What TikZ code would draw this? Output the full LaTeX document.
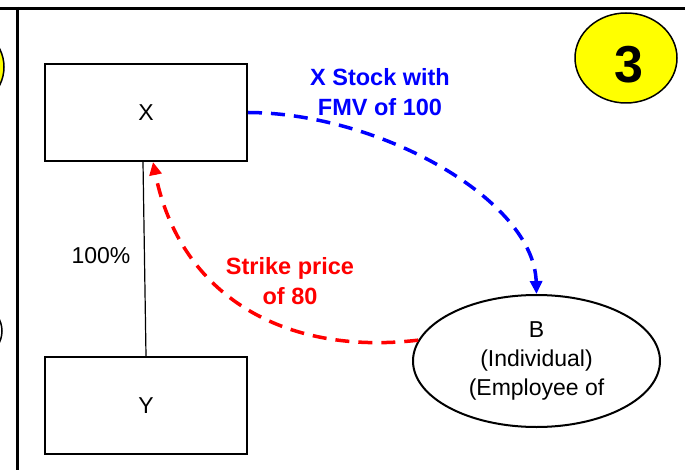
\documentclass[tikz,border=0pt]{standalone}
\usepackage{fontspec}
\setmainfont{Liberation Sans}
\usetikzlibrary{arrows.meta,shapes.geometric}
\definecolor{badgeyellow}{RGB}{255,255,0}
\definecolor{arrowblue}{RGB}{0,0,255}
\definecolor{arrowred}{RGB}{255,0,0}
\tikzset{
  entity/.style={draw=black, line width=2pt, minimum width=202pt, minimum height=97pt, inner sep=0pt, font=\fontsize{23}{29}\selectfont},
  person/.style={draw=black, line width=2pt, ellipse, minimum width=247pt, minimum height=132pt, inner sep=0pt, align=center, font=\fontsize{23}{29}\selectfont},
  badge/.style={draw=black, line width=1.5pt, fill=badgeyellow, ellipse, minimum width=102pt, minimum height=90pt, inner sep=0pt},
  frameline/.style={line width=3pt, black},
  owner/.style={line width=1.2pt, black},
  flow/.style={line width=3.5pt, dash pattern=on 14pt off 9pt, -{Triangle[length=13pt,width=12pt]}},
  flowlabel/.style={font=\bfseries\fontsize{23.5}{30}\selectfont, align=center},
  plain/.style={font=\fontsize{23}{29}\selectfont}
}
\begin{document}
\begin{tikzpicture}[x=1pt,y=-1pt]
\useasboundingbox (0,0) rectangle (685,470);
\clip (0,0) rectangle (685,470);
% frame lines
\coordinate (tl) at (0,8.5);
\coordinate (tr) at (685,8.5);
\coordinate (vt) at (17,7);
\coordinate (vb) at (17,470);
\draw[frameline] (tl) -- (tr);
\draw[frameline] (vt) -- (vb);
% partial shapes cut off at the left
\node[badge] (leftbadge) at (-47,67) {};
\node[draw=black, line width=1.5pt, fill=white, ellipse, minimum width=124pt, minimum height=80pt] (leftoval) at (-60,331) {};
% badge 3
\node[badge] (badge) at (626,58) {};
\node[font=\bfseries\fontsize{52}{52}\selectfont] (badgenum) at (629,65) {3};
% entities
\node[entity] (X) at (146,112.5) {X};
\node[entity] (Y) at (146,405.5) {Y};
\node[person] (B) at (536.5,361) {B\\(Individual)\\(Employee of};
% ownership
\draw[owner] ([xshift=-3pt]X.south) -- (Y.north);
\node[plain] (pct) at (101,256) {100\%};
% flows
\draw[flow, arrowblue] (X.east) .. controls (380,113) and (534,200) .. (B.north);
\node[flowlabel, text=arrowblue] (stocklbl) at (380,92) {X Stock with\\FMV of 100};
\draw[flow, arrowred] (B.170) .. controls (285,356) and (180,296) .. ([xshift=7pt]X.south);
\node[flowlabel, text=arrowred] (strikelbl) at (290,281) {Strike price\\of 80};
\end{tikzpicture}
\end{document}
